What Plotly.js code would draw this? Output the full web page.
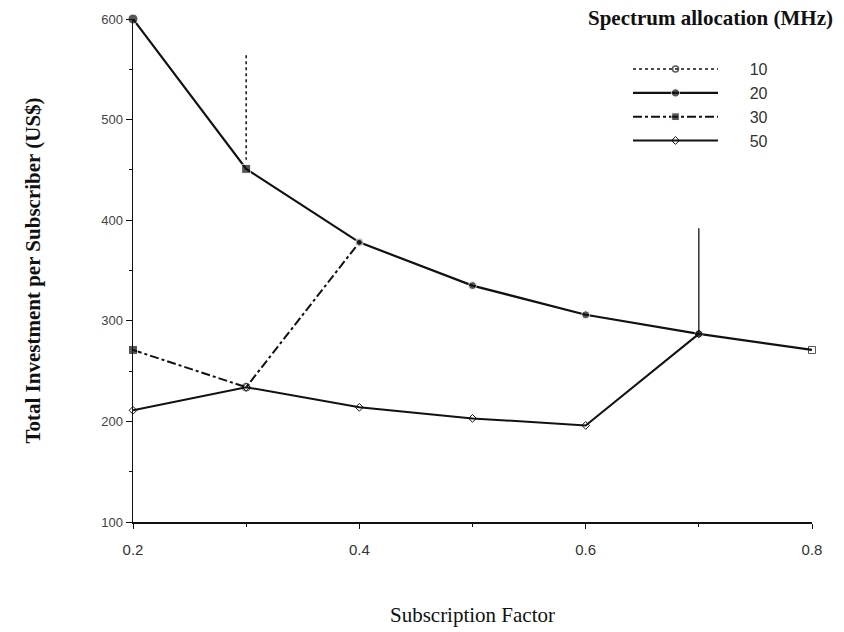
<!DOCTYPE html>
<html><head><meta charset="utf-8">
<script src="https://cdn.plot.ly/plotly-3.0.1.min.js"></script>
<style>body{margin:0;background:#fff}#c{width:844px;height:632px}</style>
</head><body><div id="c"></div>
<script>
// Data
const s20x = [0.2, 0.3, 0.4, 0.5, 0.6, 0.7, 0.8];
const s20y = [600, 451, 378, 335, 306, 287, 271];
const s30x = [0.2, 0.3, 0.4];
const s30y = [271, 234, 378];
const s50x = [0.2, 0.3, 0.4, 0.5, 0.6, 0.7];
const s50y = [211, 234, 214, 203, 196, 287];
const s10x = [0.3, 0.3];
const s10y = [564, 460];
const v2x = [0.7, 0.7];
const v2y = [392, 287];
const names = ['10', '20', '30', '50'];
const legendTitle = 'Spectrum allocation (MHz)';
const xTitle = 'Subscription Factor';
const yTitle = 'Total Investment per Subscriber (US$)';
const xTicks = [0.2, 0.4, 0.6, 0.8];
const yTicks = [100, 200, 300, 400, 500, 600];

const ink = '#111';
const pad = '\u00a0\u00a0\u00a0\u00a0\u00a0\u00a0';
const traces = [
  // series 10: only the dotted vertical piece is visible; the trailing empty point
  // carries the legend marker size (Plotly sizes legend markers by the mean)
  {x: s10x.concat([null]), y: s10y.concat([null]), name: pad + names[0], mode: 'lines+markers',
   line: {color: ink, width: 1.5, dash: 'dot'},
   marker: {symbol: 'circle-open', size: [0, 0, 18], color: ink, line: {width: 1.5}}},
  {x: s20x, y: s20y, name: pad + names[1], mode: 'lines+markers', line: {color: ink, width: 2.2},
   marker: {symbol: ['circle', 'square', 'circle', 'circle', 'circle', 'circle', 'square-open'],
            size: [10, 9, 8, 8, 8, 8, 7], color: ink}},
  {x: s30x, y: s30y, name: pad + names[2], mode: 'lines+markers', line: {color: ink, width: 2, dash: 'dashdot'},
   marker: {symbol: ['square', 'circle-open', 'circle'], size: [9, 8, 6], color: ink}},
  {x: s50x, y: s50y, name: pad + names[3], mode: 'lines+markers', line: {color: ink, width: 2},
   marker: {symbol: 'diamond-open', size: 6, color: ink}},
  {x: v2x, y: v2y, name: 'v', showlegend: false, mode: 'lines', line: {color: ink, width: 1.3}}
];
traces.forEach(t => t.cliponaxis = false);

const layout = {
  width: 844, height: 632,
  margin: {l: 133, r: 32, t: 19, b: 110},
  paper_bgcolor: '#fff', plot_bgcolor: '#fff',
  showlegend: true,
  legend: {
    x: 0.729, y: 0.934, xanchor: 'left', yanchor: 'top',
    font: {family: 'Liberation Sans, Arial, sans-serif', size: 16, color: '#333'},
    itemwidth: 85, tracegroupgap: 0, bgcolor: 'rgba(0,0,0,0)'
  },
  annotations: [{
    text: '<b>' + legendTitle + '</b>', xref: 'paper', yref: 'paper',
    x: 1.034, y: 1.002, xanchor: 'right', yanchor: 'middle', showarrow: false,
    font: {family: 'Liberation Serif, Times New Roman, serif', size: 21, color: '#111'}
  }],
  xaxis: {
    range: [0.2, 0.8], tickvals: xTicks, ticktext: xTicks.map(v => v.toFixed(1)),
    showgrid: false, zeroline: false, showline: true, linecolor: ink, linewidth: 2.2,
    ticks: 'outside', ticklen: 5, tickcolor: ink, ticklabelstandoff: 8,
    tickfont: {family: 'Liberation Sans, Arial, sans-serif', size: 15, color: '#333'},
    minor: {dtick: 0.1, ticks: 'outside', ticklen: 3, tickcolor: ink, showgrid: false},
    title: {text: xTitle, standoff: 50,
            font: {family: 'Liberation Serif, Times New Roman, serif', size: 21, color: '#111'}}
  },
  yaxis: {
    range: [100, 600], tickvals: yTicks,
    showgrid: false, zeroline: false, showline: true, linecolor: ink, linewidth: 1.5,
    ticks: 'outside', ticklen: 6, tickcolor: ink,
    tickfont: {family: 'Liberation Sans, Arial, sans-serif', size: 13, color: '#444'},
    minor: {dtick: 50, ticks: 'outside', ticklen: 3, tickcolor: ink, showgrid: false},
    title: {text: '<b>' + yTitle + '</b>', standoff: 55,
            font: {family: 'Liberation Serif, Times New Roman, serif', size: 21, color: '#111'}}
  }
};
Plotly.newPlot('c', traces, layout, {displayModeBar: false, staticPlot: true});
</script></body></html>
